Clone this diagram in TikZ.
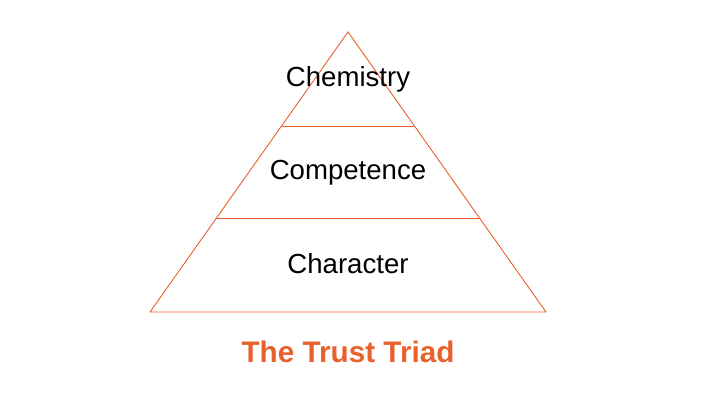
\documentclass[tikz,border=0pt]{standalone}
\usepackage{fontspec}
\setmainfont{Liberation Sans}
\usepackage{tikz}
\usetikzlibrary{positioning,calc}
\usepackage{xcolor}
\definecolor{trustorange}{RGB}{232,96,44}

\begin{document}
\begin{tikzpicture}[x=1pt,y=-1pt,
                    edge/.style={draw=trustorange, line width=0.9pt, line join=miter},
                    level/.style={font=\fontsize{27.6}{30}\selectfont, text=black},
                    heading/.style={font=\fontsize{29.7}{32}\selectfont\bfseries, text=trustorange}]
                \useasboundingbox (0,0) rectangle (720,405);
                \coordinate (top) at (348,32);
                \coordinate (left) at (150,312);
                \coordinate (right) at (546,312);
                % level lines
                \coordinate (l1) at ($(top)!0.3357!(left)$);
                \coordinate (r1) at ($(top)!0.3357!(right)$);
                \coordinate (l2) at ($(top)!0.6643!(left)$);
                \coordinate (r2) at ($(top)!0.6643!(right)$);
                \draw[edge] (top) -- (left) -- (right) -- cycle;
                \draw[edge] (l1) -- (r1);
                \draw[edge] (l2) -- (r2);
                \node[level] (chemistry) at (348,79) {Chemistry};
                \node[level] (competence) at (348,173) {Competence};
                \node[level] (character) at (348,264) {Character};
                \node[heading] (title) at (348,352) {The Trust Triad};
\end{tikzpicture}
\end{document}
